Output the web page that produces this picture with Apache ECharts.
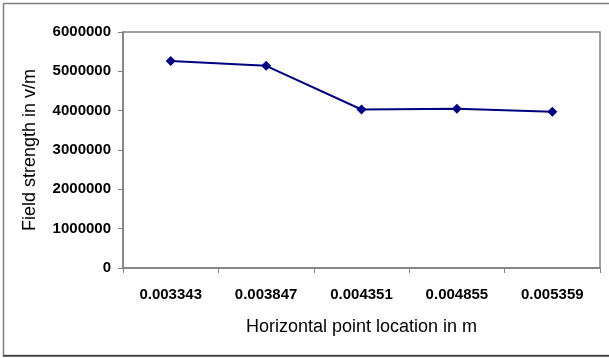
<!DOCTYPE html>
<html><head><meta charset="utf-8">
<script src="https://cdn.jsdelivr.net/npm/echarts@6/dist/echarts.min.js"></script>
<style>html,body{margin:0;padding:0;background:#fff;}#c{width:609px;height:358px;}</style>
</head><body><div id="c"></div>
<script>
const categories = ['0.003343','0.003847','0.004351','0.004855','0.005359'];
const fieldStrength = [5260000, 5140000, 4030000, 4050000, 3970000];
const yTicks = {min: 0, max: 6000000, interval: 1000000};
const xTitle = 'Horizontal point location in m';
const yTitle = 'Field strength in v/m';

const chart = echarts.init(document.getElementById('c'), null, {renderer: 'canvas'});
const font = 'Liberation Sans, Arial, sans-serif';
chart.setOption({
  animation: false,
  backgroundColor: '#fff',
  graphic: [
    {type: 'rect', shape: {x: 3.5, y: 3.5, width: 620, height: 352}, style: {fill: 'none', stroke: '#808080', lineWidth: 1.5}, silent: true},
    {type: 'line', shape: {x1: 3, y1: 356, x2: 609, y2: 356}, style: {stroke: '#000', lineWidth: 1.2}, silent: true}
  ],
  grid: {left: 123, top: 32, width: 477, height: 236, show: true, borderColor: '#808080', borderWidth: 1.5, backgroundColor: 'transparent'},
  xAxis: {
    type: 'category', data: categories, boundaryGap: true,
    axisLine: {lineStyle: {color: '#808080', width: 1.5}},
    axisTick: {show: true, length: 5, lineStyle: {color: '#808080'}},
    axisLabel: {color: '#000', fontFamily: font, fontWeight: 'bold', fontSize: 15, margin: 19},
    name: xTitle, nameLocation: 'middle', nameGap: 50,
    nameTextStyle: {color: '#000', fontFamily: font, fontSize: 18}
  },
  yAxis: {
    type: 'value', min: yTicks.min, max: yTicks.max, interval: yTicks.interval,
    axisLine: {show: true, lineStyle: {color: '#808080', width: 1.5}},
    axisTick: {show: true, length: 5, lineStyle: {color: '#808080'}},
    splitLine: {show: false},
    axisLabel: {color: '#000', fontFamily: font, fontWeight: 'bold', fontSize: 15, margin: 12,
      formatter: v => String(v)},
    name: yTitle, nameLocation: 'middle', nameGap: 84, nameRotate: 90,
    nameTextStyle: {color: '#000', fontFamily: font, fontSize: 18}
  },
  series: [{
    type: 'line', data: fieldStrength,
    symbol: 'diamond', symbolSize: 10,
    lineStyle: {color: '#000080', width: 2},
    itemStyle: {color: '#000080'}
  }]
});
</script></body></html>
